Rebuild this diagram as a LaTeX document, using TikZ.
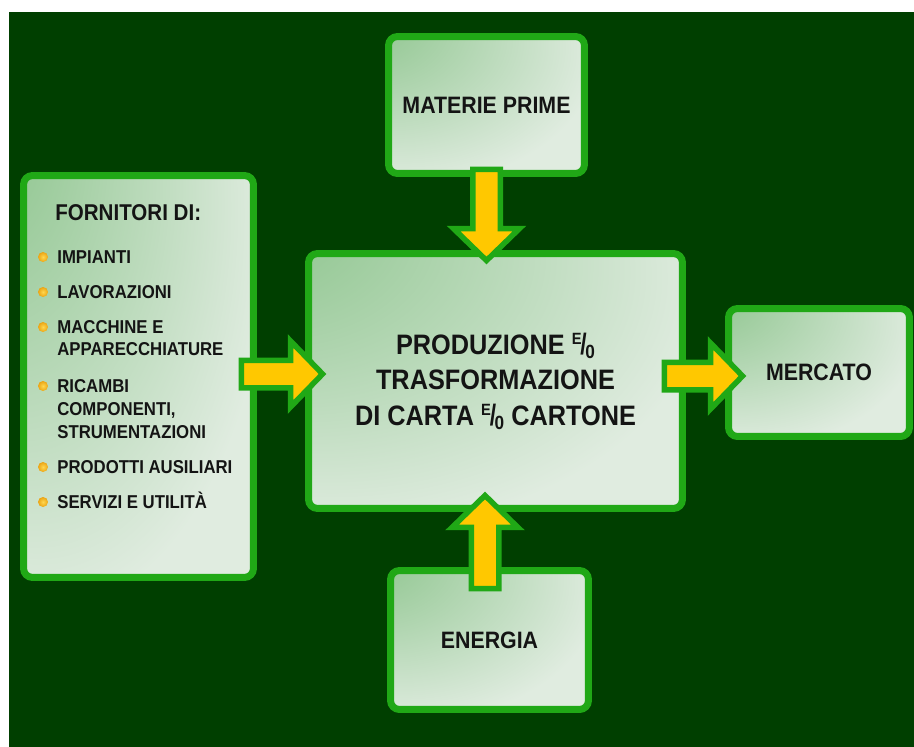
\documentclass[tikz,border=0pt]{standalone}
\usepackage{fontspec}
\setmainfont{Liberation Sans}[FakeStretch=0.9]
\usepackage{tikz}
\usetikzlibrary{calc}
\usepackage{xcolor}

\definecolor{bgGreen}{RGB}{0,63,0}
\definecolor{rimGreen}{RGB}{32,168,22}
\definecolor{paleGreen}{RGB}{224,236,224}
\definecolor{glowGreen}{RGB}{140,196,140}
\definecolor{feedYellow}{RGB}{255,200,0}
\definecolor{bulletGold}{RGB}{235,165,20}
\definecolor{bulletLight}{RGB}{255,215,80}
\definecolor{inkBlack}{RGB}{20,20,20}

\pgfdeclareradialshading{boxglow}{\pgfpoint{-38bp}{36bp}}{color(0bp)=(glowGreen); color(5bp)=(glowGreen); color(48bp)=(paleGreen); color(100bp)=(paleGreen)}

% the E/0 sign printed in the diagram
\newcommand\eslash{\raisebox{0.36em}{\scalebox{0.58}{E}}\kern-0.04em\scalebox{0.9}[1.05]{/}\kern-0.05em\raisebox{-0.14em}{\scalebox{0.68}{0}}}

% block arrow: tail, tip, direction (dx,dy)
\newcommand\arrshaft{13.75}
\newcommand\arrwing{33}
\newcommand\arrhead{32}
\newcommand\feedarrow[4]{%
  \draw[feed] ($(#1)+({-\arrshaft*#4},{\arrshaft*#3})$)
    -- ($(#2)+({-\arrhead*#3-\arrshaft*#4},{-\arrhead*#4+\arrshaft*#3})$)
    -- ($(#2)+({-\arrhead*#3-\arrwing*#4},{-\arrhead*#4+\arrwing*#3})$)
    -- (#2)
    -- ($(#2)+({-\arrhead*#3+\arrwing*#4},{-\arrhead*#4-\arrwing*#3})$)
    -- ($(#2)+({-\arrhead*#3+\arrshaft*#4},{-\arrhead*#4-\arrshaft*#3})$)
    -- ($(#1)+({\arrshaft*#4},{-\arrshaft*#3})$) -- cycle;}

\begin{document}
\begin{tikzpicture}[x=0.02cm,y=-0.02cm,line cap=round,
  panel/.style={draw=rimGreen,line width=0.14cm,rounded corners=0.18cm,shade,shading=boxglow,inner sep=0pt,text=inkBlack},
  panellabel/.style={panel,font=\fontsize{13.5}{16}\selectfont\bfseries},
  listitem/.style={anchor=base west,inner sep=0pt,text=inkBlack,font=\fontsize{10.6}{12}\selectfont\bfseries},
  bullet/.style={inner color=bulletLight,outer color=bulletGold},
  feed/.style={fill=feedYellow,draw=rimGreen,line width=0.11cm,line join=miter}]
\useasboundingbox (0,0) rectangle (914,747);
\fill[white] (0,0) rectangle (914,747);
\fill[bgGreen] (9,12) rectangle (914,747);

% boxes
\node[panel,minimum width=4.6cm,minimum height=8.04cm] (fornitori) at (138.5,376.5) {};
\node[panel,align=center,font=\fontsize{16}{20.2}\selectfont\bfseries,minimum width=7.48cm,minimum height=5.1cm] (produzione) at (495.5,381) {PRODUZIONE \eslash\\TRASFORMAZIONE\\DI CARTA \eslash{} CARTONE};
\node[panellabel,minimum width=3.92cm,minimum height=2.74cm] (materie) at (486.5,105) {MATERIE PRIME};
\node[panellabel,minimum width=3.62cm,minimum height=2.56cm] (mercato) at (819,372.5) {MERCATO};
\node[panellabel,minimum width=3.96cm,minimum height=2.78cm] (energia) at (489.5,640) {ENERGIA};

% list of suppliers
\node[listitem,font=\fontsize{13}{15}\selectfont\bfseries] (title) at (55,220) {FORNITORI DI:};
\node[listitem] (it1) at (57,263) {IMPIANTI};
\node[listitem] (it2) at (57,298) {LAVORAZIONI};
\node[listitem] (it3a) at (57,333) {MACCHINE E};
\node[listitem] (it3b) at (57,355.5) {APPARECCHIATURE};
\node[listitem] (it4a) at (57,392) {RICAMBI};
\node[listitem] (it4b) at (57,415) {COMPONENTI,};
\node[listitem] (it4c) at (57,438) {STRUMENTAZIONI};
\node[listitem] (it5) at (57,473) {PRODOTTI AUSILIARI};
\node[listitem] (it6) at (57,508) {SERVIZI E UTILITÀ};
\shade[bullet] ($(it1.base west)+(-14,-6)$) circle (0.1cm);
\shade[bullet] ($(it2.base west)+(-14,-6)$) circle (0.1cm);
\shade[bullet] ($(it3a.base west)+(-14,-6)$) circle (0.1cm);
\shade[bullet] ($(it4a.base west)+(-14,-6)$) circle (0.1cm);
\shade[bullet] ($(it5.base west)+(-14,-6)$) circle (0.1cm);
\shade[bullet] ($(it6.base west)+(-14,-6)$) circle (0.1cm);

% arrow ends
\coordinate (materieout) at ($(materie.south)+(0,-7.5)$);
\coordinate (produzionetop) at ($(materie.south |- produzione.north)+(0,10.5)$);
\coordinate (fornitoriout) at ($(fornitori.east)+(-15.5,-2.5)$);
\coordinate (produzioneleft) at ($(produzione.west)+(17.5,-7)$);
\coordinate (produzioneout) at ($(produzione.east)+(-21.5,-5)$);
\coordinate (mercatoin) at ($(mercato.west)+(17.5,3.5)$);
\coordinate (energiaout) at ($(energia.north)+(-4.5,21.5)$);
\coordinate (produzionebottom) at ($(energiaout |- produzione.south)+(0,-16.5)$);

\feedarrow{materieout}{produzionetop}{0}{1}
\feedarrow{fornitoriout}{produzioneleft}{1}{0}
\feedarrow{produzioneout}{mercatoin}{1}{0}
\feedarrow{energiaout}{produzionebottom}{0}{-1}
\end{tikzpicture}
\end{document}
